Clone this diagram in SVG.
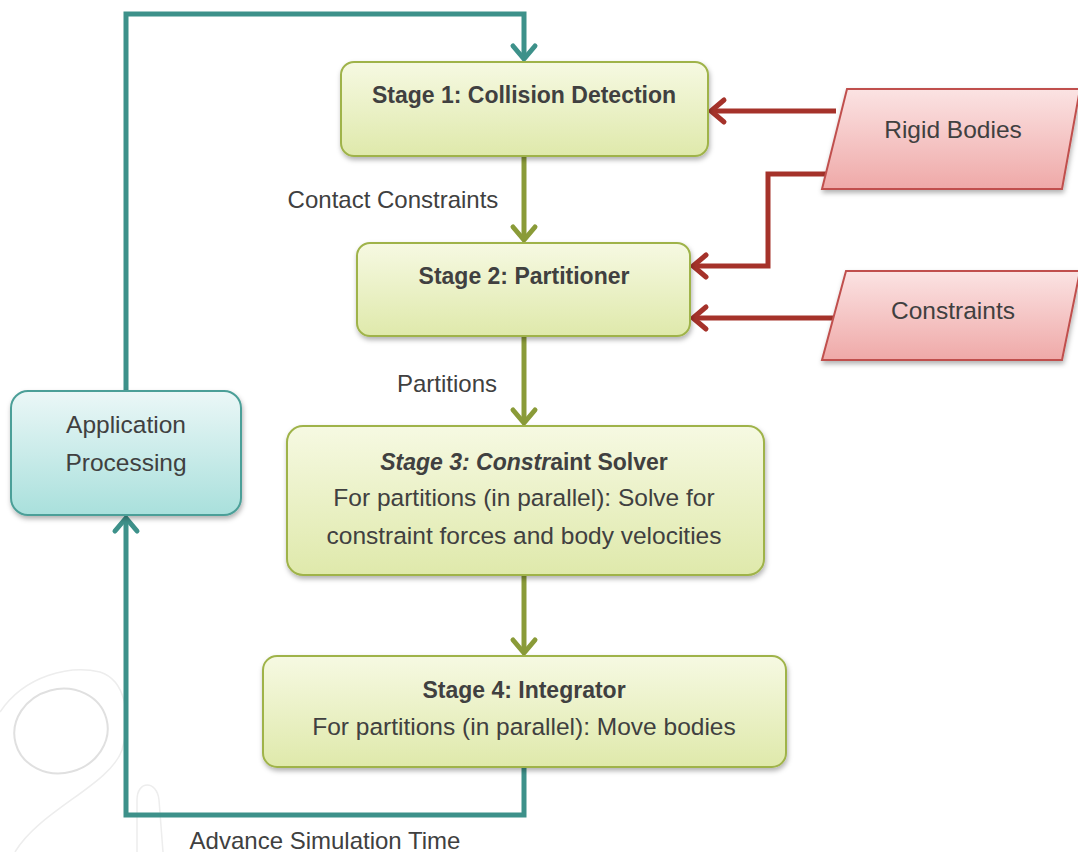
<svg xmlns="http://www.w3.org/2000/svg" width="1078" height="852" viewBox="0 0 1078 852">
<defs>
<linearGradient id="gGreen" x1="0" y1="0" x2="0" y2="1"><stop offset="0" stop-color="#f6f9e2"/><stop offset="1" stop-color="#dfe9ab"/></linearGradient>
<linearGradient id="gRed" x1="0" y1="0" x2="0" y2="1"><stop offset="0" stop-color="#fbe3e3"/><stop offset="1" stop-color="#efa9a8"/></linearGradient>
<linearGradient id="gTeal" x1="0" y1="0" x2="0" y2="1"><stop offset="0" stop-color="#ebf7f7"/><stop offset="1" stop-color="#a9e0dc"/></linearGradient>
<filter id="sh" x="-10%" y="-10%" width="120%" height="130%"><feDropShadow dx="1" dy="3" stdDeviation="2.5" flood-color="#000" flood-opacity="0.3"/></filter>
<marker id="aG" markerUnits="userSpaceOnUse" viewBox="-16 -14 20 28" markerWidth="20" markerHeight="28" refX="0" refY="0" orient="auto" overflow="visible"><path d="M-13,-11 L0,0 L-13,11" fill="none" stroke="#8a9b38" stroke-width="5" stroke-linecap="round" stroke-linejoin="round"/></marker>
<marker id="aR" markerUnits="userSpaceOnUse" viewBox="-16 -14 20 28" markerWidth="20" markerHeight="28" refX="0" refY="0" orient="auto" overflow="visible"><path d="M-13,-11 L0,0 L-13,11" fill="none" stroke="#a5322a" stroke-width="5" stroke-linecap="round" stroke-linejoin="round"/></marker>
<marker id="aT" markerUnits="userSpaceOnUse" viewBox="-16 -14 20 28" markerWidth="20" markerHeight="28" refX="0" refY="0" orient="auto" overflow="visible"><path d="M-13,-11 L0,0 L-13,11" fill="none" stroke="#3d918a" stroke-width="5" stroke-linecap="round" stroke-linejoin="round"/></marker>
</defs>
<style>
.stage{fill:url(#gGreen);stroke:#9fb34a;stroke-width:2;filter:url(#sh)}
.data{fill:url(#gRed);stroke:#c0504d;stroke-width:2;filter:url(#sh)}
.app{fill:url(#gTeal);stroke:#4c9f98;stroke-width:2;filter:url(#sh)}
text{font-family:"Liberation Sans",Arial,sans-serif;fill:#404040;font-size:24.5px;text-anchor:middle}
.b{font-weight:bold;font-size:23px}
.lbl{font-size:24px}
.cG{fill:none;stroke:#8a9b38;stroke-width:5}
.cR{fill:none;stroke:#a5322a;stroke-width:5}
.cT{fill:none;stroke:#3d918a;stroke-width:5}
.deco{fill:none;stroke:#e0e0e0;stroke-width:2}
.deco2{fill:none;stroke:#ededed;stroke-width:1.5}
</style>
<rect width="1078" height="852" fill="#ffffff"/>
<g id="decoration">
<ellipse class="deco" cx="61" cy="731" rx="47" ry="42" transform="rotate(-15 61 731)"/>
<path class="deco2" d="M0,712 C25,675 70,665 100,672 C125,680 132,715 122,750 C110,785 40,810 15,852"/>
<path class="deco2" d="M137,852 L137,800 C137,780 157,780 159,800 L163,852"/>
</g>
<g id="connectors">
<path class="cG" d="M524,156 V240" marker-end="url(#aG)"/>
<path class="cG" d="M524,336 V423" marker-end="url(#aG)"/>
<path class="cG" d="M524,575 V653" marker-end="url(#aG)"/>
<path class="cR" d="M836,111 H711" marker-end="url(#aR)"/>
<path class="cR" d="M826,174 H768 V266 H693" marker-end="url(#aR)"/>
<path class="cR" d="M835,318 H693" marker-end="url(#aR)"/>
<path class="cT" d="M126,391 V14 H524 V59" marker-end="url(#aT)"/>
<path class="cT" d="M524,767 V815 H126 V518" marker-end="url(#aT)"/>
<text class="lbl" x="393" y="208">Contact Constraints</text>
<text class="lbl" x="447" y="392">Partitions</text>
<text class="lbl" x="325" y="849">Advance Simulation Time</text>
</g>
<g id="stage1">
<rect class="stage" x="341" y="62" width="367" height="94" rx="13"/>
<text class="b" x="524" y="103">Stage 1: Collision Detection</text>
</g>
<g id="stage2">
<rect class="stage" x="357" y="243" width="333" height="93" rx="13"/>
<text class="b" x="524" y="284">Stage 2: Partitioner</text>
</g>
<g id="stage3">
<rect class="stage" x="287" y="426" width="477" height="149" rx="16"/>
<text class="b" x="524" y="470"><tspan font-style="italic">Stage 3: Constr</tspan>aint Solver</text>
<text x="524" y="506">For partitions (in parallel): Solve for</text>
<text x="524" y="544">constraint forces and body velocities</text>
</g>
<g id="stage4">
<rect class="stage" x="263" y="656" width="523" height="111" rx="14"/>
<text class="b" x="524" y="698">Stage 4: Integrator</text>
<text x="524" y="735">For partitions (in parallel): Move bodies</text>
</g>
<g id="rigid-bodies">
<polygon class="data" points="847,89 1080,89 1062,189 822,189"/>
<text x="953" y="138">Rigid Bodies</text>
</g>
<g id="constraints">
<polygon class="data" points="846,271 1080,271 1062,360 822,360"/>
<text x="953" y="319">Constraints</text>
</g>
<g id="application">
<rect class="app" x="11" y="391" width="230" height="124" rx="17"/>
<text x="126" y="433">Application</text>
<text x="126" y="471">Processing</text>
</g>
</svg>
